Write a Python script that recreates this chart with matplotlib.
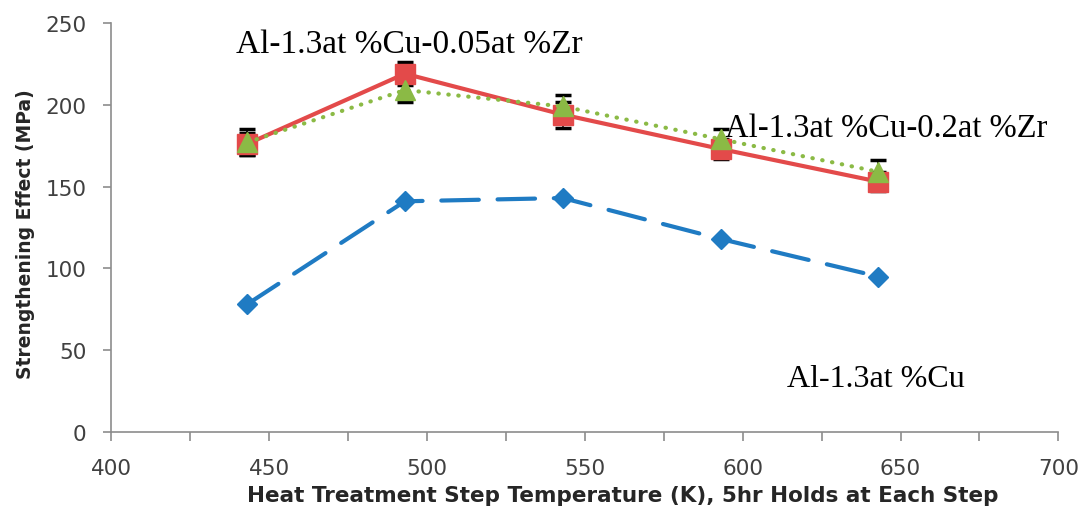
import numpy as np
import matplotlib.pyplot as plt

# heat treatment steps (K)
temps = [443, 493, 543, 593, 643]

# strengthening effect (MPa)
cu_only = [78, 141, 143, 118, 95]
zr_005 = [176, 219, 194, 173, 153]
zr_02 = [177, 209, 199, 179, 159]

# error bars
zr_005_err = [7, 7, 8, 6, 6]
zr_02_err = [8, 7, 7, 6, 7]

blue = '#1F7BC3'
red = '#E34A4A'
green = '#8BBA45'
grey = '#8C8C8C'

fig = plt.figure(figsize=(10.8, 5.1), dpi=100)
ax = fig.add_axes([0.103, 0.151, 0.877, 0.802])

ax.errorbar(temps, zr_005, yerr=zr_005_err, fmt='none', ecolor='black',
            elinewidth=1.2, capsize=6, capthick=2.5, zorder=1)
ax.errorbar(temps, zr_02, yerr=zr_02_err, fmt='none', ecolor='black',
            elinewidth=1.2, capsize=6, capthick=2.5, zorder=1)

ax.plot(temps, cu_only, color=blue, lw=3, dashes=(9, 4.5),
        dash_capstyle='round', marker='D', markersize=10, zorder=3)
ax.plot(temps, zr_005, color=red, lw=3, marker='s', markersize=15, zorder=3)
ax.plot(temps, zr_02, color=green, lw=3, dashes=(0.1, 2.3),
        dash_capstyle='round', marker='^', markersize=15, zorder=4)

ax.set_xlim(400, 700)
ax.set_ylim(0, 250)
ax.set_xticks(np.arange(400, 701, 50))
ax.set_xticks(np.arange(400, 701, 25), minor=True)
ax.set_yticks(np.arange(0, 251, 50))

for s in ['top', 'right']:
    ax.spines[s].set_visible(False)
for s in ['left', 'bottom']:
    ax.spines[s].set_color(grey)
    ax.spines[s].set_linewidth(1.2)

ax.tick_params(axis='both', which='both', color=grey, direction='out',
               labelsize=15.5, labelcolor='#404040', width=1.2)
ax.tick_params(axis='x', which='both', length=6.5, pad=12)
ax.tick_params(axis='y', length=6, pad=12)

ax.set_xlabel('Heat Treatment Step Temperature (K), 5hr Holds at Each Step',
              fontweight='bold', fontsize=15.5, color='#262626')
ax.xaxis.set_label_coords(0.54, -0.13)
ax.set_ylabel('Strengthening Effect (MPa)', fontweight='bold',
              fontsize=13.5, color='#262626')
ax.yaxis.set_label_coords(-0.081, 0.487)

ax.text(439.5, 237.5, 'Al-1.3at %Cu-0.05at %Zr', family='Liberation Serif',
        fontsize=24, va='center', ha='left')
ax.text(594.5, 186, 'Al-1.3at %Cu-0.2at %Zr', family='Liberation Serif',
        fontsize=23.5, va='center', ha='left')
ax.text(614, 32.5, 'Al-1.3at %Cu', family='Liberation Serif',
        fontsize=23, va='center', ha='left')

fig.savefig('out.png', dpi=100)
